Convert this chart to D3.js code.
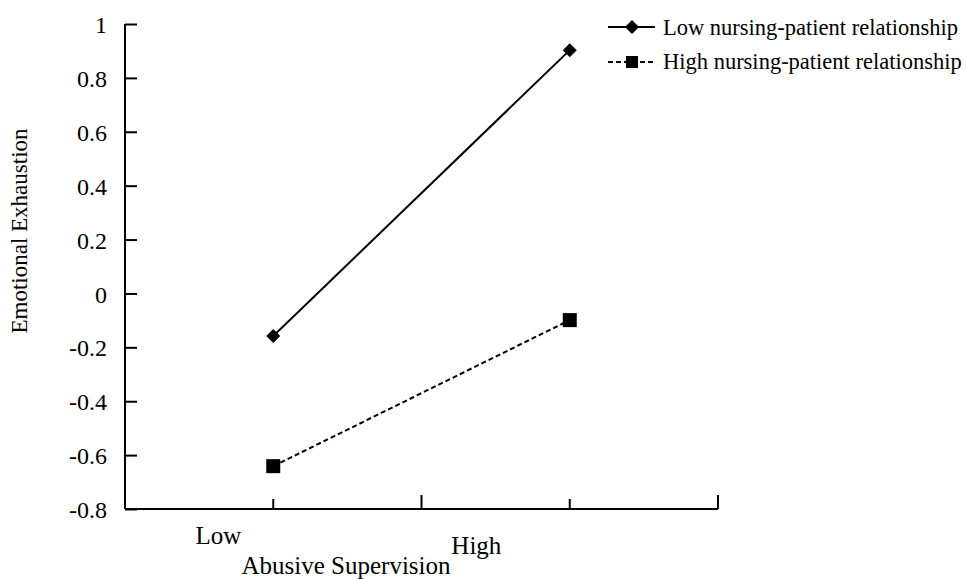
<!DOCTYPE html>
<html><head><meta charset="utf-8">
<script src="https://cdn.jsdelivr.net/npm/d3@7"></script>
<style>body{margin:0;background:#fff}svg{display:block}svg text{font-family:"Liberation Serif","Times New Roman",Times,serif;fill:#000}</style>
</head><body>
<svg id="c" width="966" height="579"></svg>
<script>
const categories = ["Low", "High"];
const catPos = [1, 3];
const seriesNames = ["Low nursing-patient relationship", "High nursing-patient relationship"];
const lowRel = [-0.158, 0.903];
const highRel = [-0.641, -0.099];
const yTicks = [1, 0.8, 0.6, 0.4, 0.2, 0, -0.2, -0.4, -0.6, -0.8];

const FONT = '"Liberation Serif","Times New Roman",Times,serif';
const svg = d3.select("#c");
const x = d3.scaleLinear().domain([0, 4]).range([125, 718]);
const y = d3.scaleLinear().domain([-0.8, 1]).range([509, 24]);

// y axis
const yAx = svg.append("g").attr("transform", `translate(${x(0)},0)`)
  .call(d3.axisRight(y).tickValues(yTicks).tickSize(12).tickSizeOuter(0));
yAx.attr("font-family", FONT);
yAx.select(".domain").attr("stroke-width", 2).attr("d", `M0,${y(1)}V${y(-0.8)}`);
yAx.selectAll(".tick line").attr("stroke-width", 2);
yAx.selectAll(".tick text").attr("x", -18).attr("dy", "0.36em").attr("text-anchor", "end").attr("font-size", 24)
  .text(d => d < 0 ? "-" + Math.abs(d) : String(d));

// x axis
const xAx = svg.append("g").attr("transform", `translate(0,${y(-0.8)})`);
xAx.append("line").attr("x1", x(0)).attr("x2", x(4)).attr("stroke", "#000").attr("stroke-width", 2);
[1, 2, 3, 4].forEach(t => {
  const len = (t % 2 === 0) ? 14 : 10;
  xAx.append("line").attr("x1", x(t)).attr("x2", x(t)).attr("y1", -len).attr("y2", 0)
    .attr("stroke", "#000").attr("stroke-width", 2);
});
// category labels
const labelPos = [0.63, 2.37];
const labelY = [544, 554];
categories.forEach((c, i) => {
  svg.append("text").attr("x", x(labelPos[i])).attr("y", labelY[i]).attr("text-anchor", "middle")
    .attr("font-size", 25).attr("font-family", FONT).text(c);
});
svg.append("text").attr("x", 346).attr("y", 574).attr("text-anchor", "middle").attr("font-size", 25).attr("font-family", FONT).text("Abusive Supervision");
svg.append("text").attr("transform", "translate(27,231) rotate(-90)").attr("text-anchor", "middle")
  .attr("font-size", 23).attr("font-family", FONT).text("Emotional Exhaustion");

const line = d3.line().x((d, i) => x(catPos[i])).y(d => y(d));
svg.append("path").datum(lowRel).attr("d", line).attr("fill", "none").attr("stroke", "#000").attr("stroke-width", 2);
svg.append("path").datum(highRel).attr("d", line).attr("fill", "none").attr("stroke", "#000").attr("stroke-width", 2).attr("stroke-dasharray", "5,3");

const diamond = "M0,-7L7,0L0,7L-7,0Z";
lowRel.forEach((v, i) => {
  svg.append("path").attr("d", diamond).attr("transform", `translate(${x(catPos[i])},${y(v)})`).attr("fill", "#000");
});
highRel.forEach((v, i) => {
  svg.append("rect").attr("x", x(catPos[i]) - 7).attr("y", y(v) - 7).attr("width", 14).attr("height", 14).attr("fill", "#000");
});

// legend
const lg = svg.append("g").attr("font-family", FONT);
lg.append("line").attr("x1", 608).attr("x2", 655).attr("y1", 27).attr("y2", 27).attr("stroke", "#000").attr("stroke-width", 2);
lg.append("path").attr("d", "M0,-7L7,0L0,7L-7,0Z").attr("transform", "translate(632,27)").attr("fill", "#000");
lg.append("text").attr("x", 663).attr("y", 34.5).attr("font-size", 22.5).text(seriesNames[0]);
lg.append("line").attr("x1", 608).attr("x2", 655).attr("y1", 62).attr("y2", 62).attr("stroke", "#000").attr("stroke-width", 2).attr("stroke-dasharray", "5,3");
lg.append("rect").attr("x", 626).attr("y", 56).attr("width", 12).attr("height", 12).attr("fill", "#000");
lg.append("text").attr("x", 663).attr("y", 69).attr("font-size", 22.5).text(seriesNames[1]);
</script>
</body></html>
